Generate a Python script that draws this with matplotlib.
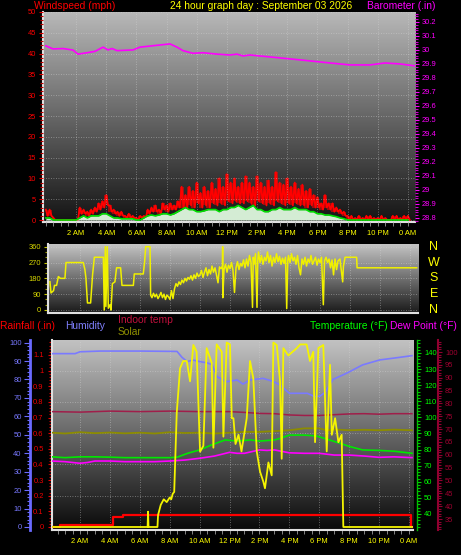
import numpy as np
import matplotlib
matplotlib.use('Agg')
import matplotlib.pyplot as plt
from matplotlib.colors import LinearSegmentedColormap
from matplotlib.ticker import MultipleLocator, FuncFormatter
from matplotlib.transforms import blended_transform_factory

plt.rcParams['font.family'] = ['Liberation Sans', 'DejaVu Sans']

# ---------------- data ----------------
hour_ticks = [2, 4, 6, 8, 10, 12, 14, 16, 18, 20, 22, 24]
hour_labels = ["2 AM", "4 AM", "6 AM", "8 AM", "10 AM", "12 PM",
               "2 PM", "4 PM", "6 PM", "8 PM", "10 PM", "0 AM"]

# wind, sampled every 15 minutes (0:00 .. 24:00)
wind_t = np.arange(97) * 0.25
gust_high = [2.5, 2.5, 0.5, 0,
             0, 0, 0, 0, 0,
             3, 2.5, 2, 2.5, 3,
             4, 4.5, 6, 3.5,
             2.5, 2, 2, 1, 1.5, 1, 0.5, 1, 1,
             2.5, 3, 3.5, 2.5, 4, 3.5, 4, 3.5, 4.5,
             8, 6, 8, 7, 9, 6.5, 8, 7, 9, 7.5,
             10, 8, 11, 9, 10, 8, 9, 10.5, 9, 8,
             10.5, 9, 8, 9.5, 8, 11.5, 9, 8.5, 10, 8,
             9, 7.5, 8.5, 7, 7.5, 6, 5.5,
             4, 6, 4, 4, 3, 2.5, 2,
             1, 1, 0.5, 1, 0.5, 1, 1, 0.5, 0.5, 1, 0.5, 0, 1, 1, 0.5, 1, 1]
gust_low = [1, 1, 0, 0,
            0, 0, 0, 0, 0,
            1.5, 1.5, 1, 1.5, 2,
            2.5, 3, 3.5, 2,
            1.5, 1, 1, 0.5, 0.5, 0.5, 0, 0.5, 0.5,
            1.5, 2, 2, 1.5, 2.5, 2, 2.5, 2.5, 3,
            3, 3, 3.5, 3, 4, 3, 3.5, 3, 4, 3.5,
            4, 3.5, 4.5, 4, 4.5, 4, 4, 4.5, 4, 3.5,
            4.5, 4, 3.5, 4, 3.5, 4.5, 4, 3.5, 4, 3.5,
            4, 3.5, 3.5, 3, 3.5, 3, 3,
            2.5, 3, 2.5, 2, 2, 1.5, 1,
            0, 0, 0, 0, 0, 0, 0, 0, 0, 0, 0, 0, 0, 0, 0, 0, 0]
wind_avg = [0.5, 0.5, 0, 0,
            0, 0, 0, 0, 0,
            0.5, 1, 0.5, 1, 1,
            1, 1.5, 1.5, 1,
            0.5, 0.5, 0.3, 0.3, 0.3, 0.3, 0, 0, 0.5,
            1, 1.2, 1, 1.2, 1.5, 1.5, 1.2, 1.5, 2,
            2.5, 3, 2.5, 2.5, 2, 2, 2.2, 2.5, 2.5, 2.5,
            2, 2.5, 2.5, 3, 3, 3.5, 3, 2.5, 3, 3.5,
            2.5, 2.5, 2, 2, 2.5, 2.5, 3, 2.5, 2.5, 2.5,
            3, 2.5, 2.5, 2.5, 2, 2, 1.5,
            1.5, 1.2, 1.2, 1, 0.8, 0.5, 0.3,
            0, 0, 0, 0, 0, 0, 0, 0, 0, 0, 0, 0, 0, 0, 0, 0, 0]

baro_t = [0.0, 0.48, 1.14, 1.8, 2.13, 2.73, 3.26, 3.79, 4.12, 4.39, 4.72, 5.78,
          6.24, 7.10, 8.23, 8.69, 9.09, 9.75, 10.42, 11.35, 12.21, 12.67, 13.07,
          13.53, 14.86, 16.85, 18.83, 20.16, 21.49, 22.48, 23.48, 24.47]
baro_in = [30.029, 30.007, 30.01, 29.999, 29.97, 29.98, 29.99, 30.02, 30.0, 30.01,
           29.995, 30.0, 30.02, 30.03, 30.043, 30.02, 29.995, 29.976, 29.98, 29.97,
           29.964, 29.97, 29.957, 29.964, 29.95, 29.929, 29.907, 29.893, 29.893,
           29.907, 29.9, 29.886]

dir_t = [0.0, 0.07, 0.24, 0.3, 0.44, 0.56, 0.7, 1.0, 1.07, 2.22, 2.33, 2.4, 2.5, 2.71,
         2.84, 2.96, 3.56, 3.62, 3.69, 3.73, 3.82, 3.89, 4.0, 4.07, 4.16, 4.33, 4.44,
         4.71, 4.8, 5.56, 5.62, 6.22, 6.31, 6.38, 6.67, 6.71,
         6.8, 6.9, 7.0, 7.1, 7.2, 7.3, 7.4, 7.5, 7.6, 7.7, 7.8, 7.9, 8.0, 8.1, 8.2,
         8.3, 8.4, 8.5, 8.6, 8.7, 8.8, 8.9, 9.0, 9.1, 9.2, 9.3, 9.4, 9.5, 9.6, 9.7,
         9.8, 9.9, 10.0, 10.1, 10.2, 10.3, 10.4, 10.5, 10.6, 10.7, 10.8, 10.9, 11.0,
         11.1, 11.2, 11.3, 11.4, 11.5, 11.51, 11.52, 11.6, 11.7, 11.8, 11.9, 12.0,
         12.1, 12.2, 12.3, 12.4, 12.5, 12.6, 12.7, 12.8, 12.9, 13.0, 13.1, 13.2,
         13.3, 13.4, 13.5, 13.55, 13.6, 13.7, 13.8, 13.85, 13.9, 14.0, 14.1, 14.2,
         14.3, 14.4, 14.5, 14.6, 14.7, 14.8, 14.9, 15.0, 15.1, 15.2, 15.3, 15.4,
         15.5, 15.6, 15.7, 15.78, 15.85, 15.9, 16.0, 16.1, 16.2, 16.3, 16.4, 16.5,
         16.6, 16.7, 16.8, 16.9, 17.0, 17.1, 17.2, 17.3, 17.4, 17.5, 17.6, 17.7,
         17.8, 17.9, 18.0, 18.1, 18.22, 18.3, 18.4, 18.5, 18.6, 18.7, 18.8, 18.9,
         19.0, 19.1, 19.2, 19.33, 19.51, 19.56, 19.67, 20.44, 20.47, 24.44]
dir_deg = [161, 97, 110, 140, 140, 190, 180, 180, 270, 270, 230, 180, 40, 40,
           200, 300, 300, 0, 360, 20, 360, 10, 30, 0, 150, 160, 240,
           240, 140, 140, 205, 205, 275, 360, 360, 85,
           70, 95, 75, 90, 65, 80, 100, 70, 90, 60, 85, 75, 60, 110, 65,
           120, 150, 135, 160, 145, 170, 155, 180, 165, 185, 175, 195, 170, 200, 180,
           210, 190, 200, 225, 185, 215, 240, 195, 230, 205, 250, 215, 240,
           200, 155, 245, 235, 250, 360, 70, 230, 260, 215, 255, 235,
           270, 225, 100, 240, 275, 230, 265, 250, 285, 240, 290, 250,
           310, 270, 15, 300, 260, 320, 15, 280, 330, 270, 310, 260,
           300, 280, 330, 270, 310, 250, 300, 270, 320, 275, 305, 260,
           295, 265, 300, 8, 280, 310, 270, 320, 280, 300, 260, 310,
           240, 200, 290, 260, 300, 250, 290, 270, 310, 260, 280, 300,
           255, 290, 270, 300, 30, 280, 300, 270, 290, 240, 285, 200,
           290, 230, 280, 290, 160, 250, 300, 300, 240, 240]

hum_t = [0.13, 1.0, 1.67, 2.0, 3.34, 6.0, 8.49, 8.82, 9.16, 9.56, 10.0, 10.5, 10.83,
         11.16, 11.83, 12.5, 12.9, 13.37, 14.24, 14.9, 15.38, 16.0, 17.2, 17.7,
         18.05, 18.4, 18.92, 19.86, 20.9, 22.05, 23.2, 24.2]
humidity = [94, 94, 94, 95, 95.4, 95.4, 95.2, 92, 89.7, 90.5, 89.7, 89, 88,
            81.5, 78.8, 79.7, 77.5, 79.7, 80.6, 79, 77, 72.5, 72.5, 70.7,
            71, 73, 80, 83.5, 87.9, 90.6, 91.8, 92.9]

temp_t = [0.13, 1, 2, 3, 4, 5, 6, 7, 8, 8.5, 9.2, 10, 10.8, 11.7, 12.5, 13.4, 14,
          15, 15.4, 16, 17, 17.8, 18.5, 19.4, 20, 20.9, 22, 23, 24.2]
temperature = [75.5, 75, 75.5, 75.5, 75.3, 75, 75, 75, 75, 75.3, 77.7, 79.8, 82.9,
               86, 85.3, 86, 85.3, 86, 87, 89, 89, 88.5, 86.5, 83.9, 82, 79.8,
               79.5, 79, 77.7]

dew_t = [0.13, 1, 2, 2.5, 3, 4, 5, 6, 7, 8, 9, 10, 11, 12, 12.5, 13, 14, 14.5,
         15, 16, 17, 18, 19, 20, 21, 22, 23, 24.2]
dew_point = [72.9, 72.5, 71.5, 72, 72.9, 72.9, 72.5, 72.5, 72.5, 72.9, 73.5, 74.6,
             76, 78.3, 77.7, 77.7, 79.8, 79.5, 79.8, 78, 77.7, 77.7, 76.6, 76.6,
             76, 75.2, 75.5, 75]

indoor_t = [0.13, 2, 4, 6, 8, 10, 12, 13, 14, 15, 16, 17, 18, 19, 20, 21, 22, 23, 24.2]
indoor_temp = [76.8, 76.6, 77, 76.8, 77, 76.8, 76.8, 76.5, 76.1, 76, 75.5, 75.3,
               75.3, 75.6, 75.9, 76, 75.8, 76, 76]

olive_t = [0.13, 1, 2, 3, 4, 5, 6, 7, 8, 9, 10, 11, 12, 13, 14, 15, 16, 17, 18,
           18.5, 19, 20, 21, 22, 23, 24.2]
olive_val = [90.5, 90, 90.8, 90.2, 90.6, 90.1, 90.5, 90, 90.8, 90.3, 90.5, 90,
             90.5, 91, 91, 91.5, 92, 93.2, 93.2, 92, 92.5, 92, 92.3, 92, 92.4, 92]

rain_t = [0.13, 0.66, 4.23, 4.9, 24.14, 24.27]
rain_in = [0, 0.01, 0.066, 0.078, 0, 0]

solar_t = [0.13, 6.52, 6.55, 6.58, 7.18, 7.22, 7.4, 7.6, 7.8, 8.0, 8.1, 8.2, 8.3,
           8.47, 8.69, 8.9, 9.14, 9.36, 9.58, 9.8, 10.03, 10.25, 10.47, 10.81,
           10.92, 11.14, 11.48, 11.59, 11.81, 12.03, 12.15, 12.26, 12.4, 12.6,
           12.8, 13.15, 13.37, 13.59, 13.82, 14.04, 14.26, 14.37, 14.6, 14.82,
           14.93, 15.16, 15.38, 15.49, 15.6, 15.93, 16.5, 16.72, 17.16, 17.38,
           17.6, 17.72, 17.94, 18.27, 18.5, 18.72, 18.84, 19.06, 19.28, 19.5,
           19.61, 24.27]
solar_wm2 = [0, 0, 83, 0, 0, 65, 120, 150, 135, 160, 150, 180, 190,
             620, 860, 900, 900, 790, 987, 950, 408, 440, 970, 890,
             430, 990, 950, 490, 1000, 990, 590, 590, 450, 500,
             410, 590, 900, 806, 410, 300, 246, 210, 350, 280,
             1000, 987, 790, 370, 970, 930, 970, 990, 990, 900,
             950, 460, 970, 987, 410, 880, 500, 590, 460, 500,
             0, 0]

# ---------------- helpers ----------------
W, H = 461, 555
fig = plt.figure(figsize=(W / 100, H / 100), dpi=100, facecolor='black')


def rect(l, t, r, b):
    return [l / W, 1 - b / H, (r - l) / W, (b - t) / H]


def gradient(ax, top, bottom):
    cmap = LinearSegmentedColormap.from_list('bg', [bottom, top])
    ax.imshow(np.linspace(0, 1, 256).reshape(-1, 1), cmap=cmap, extent=[0, 1, 0, 1],
              transform=ax.transAxes, aspect='auto', origin='lower', zorder=0,
              interpolation='bilinear')


def num_fmt(v, pos):
    s = f"{v:.1f}"
    return s[:-2] if s.endswith(".0") else s


def hide_spines(ax, keep=()):
    for k, sp in ax.spines.items():
        sp.set_visible(k in keep)


def style_x(ax, labels=True):
    ax.set_xticks(hour_ticks)
    ax.set_xticklabels(hour_labels if labels else [])
    ax.xaxis.set_minor_locator(MultipleLocator(0.5))
    ax.tick_params(axis='x', which='both', colors='#9a9a9a', length=3, width=0.6,
                   labelcolor='#ffff00', labelsize=5.4, pad=3)
    if not labels:
        ax.tick_params(axis='x', which='both', length=0)


GRID = dict(color='#d8d8d8', linestyle=(0, (1, 2)), linewidth=0.6, alpha=0.55)
LS = 5.4

# ---------------- top panel: wind + barometer ----------------
ax1 = fig.add_axes(rect(43, 12, 415, 222))
gradient(ax1, '#b8b8b8', '#141414')
# gust trace: alternate between the high and low reading of each 15-minute slot
zig_t = np.ravel(np.column_stack([wind_t, wind_t + 0.125]))
zig_v = np.ravel(np.column_stack([gust_high, gust_low]))
ax1.fill_between(wind_t, gust_low, gust_high, step='mid', color='#ff0000', lw=0,
                 alpha=0.55, zorder=2)
ax1.plot(zig_t, zig_v, color='#ff0000', lw=1.3, zorder=2)
ax1.fill_between(wind_t, 0, wind_avg, color='#d4ecd4', lw=0, zorder=3)
ax1.plot(wind_t, wind_avg, color='#00e000', lw=1.2, zorder=4)
ax1.set_xlim(-0.19, 24.47)
ax1.set_ylim(-0.48, 50)
ax1.yaxis.set_major_locator(MultipleLocator(5))
ax1.yaxis.set_minor_locator(MultipleLocator(1))
ax1.tick_params(axis='y', which='major', colors='#e00000', labelcolor='#ff0000',
                labelsize=LS, length=3, width=0.8, pad=2)
ax1.tick_params(axis='y', which='minor', colors='#c00000', length=2, width=0.8)
style_x(ax1)
ax1.grid(True, which='major', **GRID)
ax1.set_axisbelow(False)
hide_spines(ax1, ('left', 'bottom'))
for k in ('left', 'bottom'):
    ax1.spines[k].set_color('#e0e0e0')
    ax1.spines[k].set_linewidth(1.5)

ax1b = ax1.twinx()
ax1b.plot(baro_t, baro_in, color='#ff00ff', lw=1.2)
ax1b.set_ylim(28.771, 30.271)
ax1b.set_yticks(np.round(np.arange(28.8, 30.25, 0.1), 1))
ax1b.yaxis.set_minor_locator(MultipleLocator(0.02))
ax1b.yaxis.set_major_formatter(FuncFormatter(num_fmt))
ax1b.tick_params(axis='y', which='major', colors='#ff00ff', labelsize=LS, length=3,
                 width=0.8, pad=2)
ax1b.tick_params(axis='y', which='minor', colors='#d000d0', length=2, width=0.8)
hide_spines(ax1b)

fig.text(34 / W, 1 - 6 / H, "Windspeed (mph)", color='#ff0000', fontsize=7.4,
         ha='left', va='center')
fig.text(170 / W, 1 - 6 / H, "24 hour graph day : September 03 2026", color='#ffff00',
         fontsize=7.4, ha='left', va='center')
fig.text(367 / W, 1 - 6 / H, "Barometer (.in)", color='#ff00ff', fontsize=7.4,
         ha='left', va='center')

# ---------------- middle panel: wind direction ----------------
ax2 = fig.add_axes(rect(48, 244, 418, 313))
gradient(ax2, '#c4c4c4', '#1a1a1a')
ax2.plot(dir_t, dir_deg, color='#f0f000', lw=1.1, zorder=3)
ax2.set_xlim(-0.13, 24.53)
ax2.set_ylim(-17.1, 375.4)
ax2.set_yticks([0, 90, 180, 270, 360])
ax2.yaxis.set_minor_locator(MultipleLocator(30))
ax2.tick_params(axis='y', which='major', colors='#c8c800', labelcolor='#d8d800',
                labelsize=LS, length=3, width=0.8, pad=2)
ax2.tick_params(axis='y', which='minor', colors='#a0a000', length=2, width=0.8)
style_x(ax2, labels=False)
ax2.grid(True, which='major', **GRID)
hide_spines(ax2, ('left', 'bottom'))
for k in ('left', 'bottom'):
    ax2.spines[k].set_color('#e0e0e0')
    ax2.spines[k].set_linewidth(1.5)
tr = blended_transform_factory(ax2.transAxes, ax2.transData)
for deg, lab in zip([360, 270, 180, 90, 0], ["N", "W", "S", "E", "N"]):
    ax2.text(1.043, deg, lab, transform=tr, color='#ffff00', fontsize=9,
             ha='center', va='center', clip_on=False)

# ---------------- bottom panel ----------------
ax3 = fig.add_axes(rect(52, 340, 413, 530))
gradient(ax3, '#c2c2c2', '#0a0a0a')
XL = (0.127, 24.27)
ax3.set_xlim(*XL)
ax3.set_ylim(-0.0192, 1.1957)
ax3.yaxis.set_major_locator(MultipleLocator(0.1))
ax3.yaxis.set_major_formatter(FuncFormatter(num_fmt))
ax3.yaxis.set_minor_locator(MultipleLocator(0.02))
ax3.tick_params(axis='y', which='major', colors='#e00000', labelcolor='#ee0000',
                labelsize=LS, length=3, width=0.8, pad=3)
ax3.tick_params(axis='y', which='minor', colors='#d00000', length=2, width=0.8)
style_x(ax3)
ax3.grid(True, axis='x', which='major', **GRID)
hide_spines(ax3, ('left', 'bottom'))
for k in ('left', 'bottom'):
    ax3.spines[k].set_color('#e0e0e0')
    ax3.spines[k].set_linewidth(1.5)
for y in [0.2, 0.4, 0.6, 0.8, 1.0]:
    ax3.axhline(y, **GRID)

# indoor temperature axis (outer right)
ax_i = ax3.twinx()
ax_i.plot(indoor_t, indoor_temp, color='#a01e4a', lw=1.1)
ax_i.set_ylim(30.72, 104.68)
ax_i.yaxis.set_major_locator(MultipleLocator(5))
ax_i.yaxis.set_minor_locator(MultipleLocator(1))
ax_i.tick_params(axis='y', which='major', colors='#900030', labelcolor='#a00030',
                 labelsize=LS, length=3, width=0.8, pad=2)
ax_i.tick_params(axis='y', which='minor', colors='#900030', length=2, width=0.8)
hide_spines(ax_i, ('right',))
ax_i.spines['right'].set_position(('axes', 1.0693))
ax_i.spines['right'].set_color('#900030')
ax_i.spines['right'].set_linewidth(1.5)

# temperature axis (inner right) with temperature, dew point, olive trace
ax_t = ax3.twinx()
ax_t.plot(olive_t, olive_val, color='#8c8c00', lw=1.3)
ax_t.plot(dew_t, dew_point, color='#ff00ff', lw=1.2)
ax_t.plot(temp_t, temperature, color='#00e800', lw=1.2)
ax_t.set_ylim(30.06, 148.07)
ax_t.set_yticks(range(40, 141, 10))
ax_t.yaxis.set_minor_locator(MultipleLocator(2))
ax_t.tick_params(axis='y', which='major', colors='#00d000', labelcolor='#00ff00',
                 labelsize=LS, length=3, width=0.8, pad=2)
ax_t.tick_params(axis='y', which='minor', colors='#00c000', length=2, width=0.8)
hide_spines(ax_t, ('right',))
ax_t.spines['right'].set_position(('axes', 1.0111))
ax_t.spines['right'].set_color('#00c000')
ax_t.spines['right'].set_linewidth(1.0)

# humidity axis (outer left)
ax_h = ax3.twinx()
ax_h.plot(hum_t, humidity, color='#7a7aff', lw=1.2)
ax_h.set_ylim(-1.63, 101.4)
ax_h.yaxis.tick_left()
ax_h.yaxis.set_major_locator(MultipleLocator(10))
ax_h.yaxis.set_minor_locator(MultipleLocator(2))
ax_h.tick_params(axis='y', which='major', colors='#6a6aff', labelcolor='#7878ff',
                 labelsize=LS, length=4, width=0.8, pad=2)
ax_h.tick_params(axis='y', which='minor', colors='#6a6aff', length=2, width=0.8)
hide_spines(ax_h, ('left',))
ax_h.spines['left'].set_position(('axes', -0.0609))
ax_h.spines['left'].set_color('#6a6aff')
ax_h.spines['left'].set_linewidth(2)

# rainfall (drawn on rain scale, top layer)
ax_r = ax3.twinx()
ax_r.set_ylim(ax3.get_ylim())
ax_r.plot(rain_t, rain_in, drawstyle='steps-post', color='#ff0000', lw=1.6)
ax_r.set_yticks([])
hide_spines(ax_r)

# solar (hidden scale)
ax_s = ax3.twinx()
ax_s.plot(solar_t, solar_wm2, color='#f4f400', lw=1.3)
ax_s.set_ylim(-16.3, 1014)
ax_s.set_yticks([])
hide_spines(ax_s)

for a in (ax_i, ax_t, ax_h, ax_r, ax_s):
    a.set_xlim(*XL)

fig.text(0 / W, 1 - 326 / H, "Rainfall (.in)", color='#ff0000', fontsize=7.4,
         ha='left', va='center')
fig.text(65 / W, 1 - 326 / H, "Humidity", color='#8080ff', fontsize=7.4,
         ha='left', va='center')
fig.text(118 / W, 1 - 320 / H, "Indoor temp", color='#c0103c', fontsize=7.4,
         ha='left', va='center')
fig.text(118 / W, 1 - 332 / H, "Solar", color='#909000', fontsize=7.4,
         ha='left', va='center')
fig.text(310 / W, 1 - 326 / H, "Temperature (\u00b0F)", color='#00ff00', fontsize=7.4,
         ha='left', va='center')
fig.text(390 / W, 1 - 326 / H, "Dew Point (\u00b0F)", color='#ff00ff', fontsize=7.4,
         ha='left', va='center')

fig.savefig('out.png', dpi=100, facecolor='black')
